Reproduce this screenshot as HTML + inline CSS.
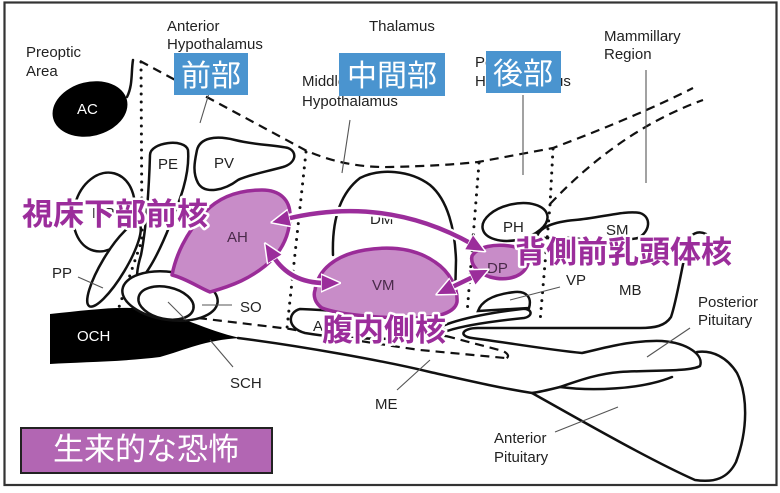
<!DOCTYPE html>
<html><head><meta charset="utf-8"><style>
html,body{margin:0;padding:0;background:#fff;}
svg{display:block;}
.l{font-family:"Liberation Sans",Arial,sans-serif;font-size:15px;fill:#222;}
.o{fill:none;stroke:#111;stroke-width:2.5;stroke-linejoin:round;stroke-linecap:round;}
.w{fill:#fff;stroke:#111;stroke-width:2.5;}
.p{stroke:#555;stroke-width:1.1;fill:none;}
.dot{fill:none;stroke:#111;stroke-width:3;stroke-dasharray:0 8;stroke-linecap:round;}
.dash{fill:none;stroke:#111;stroke-width:2.2;stroke-dasharray:9 6;}
.pu{fill:#c88cc8;stroke:#9a2c98;stroke-width:3.5;stroke-linejoin:round;}
.jp{font-family:"Liberation Sans","Noto Sans CJK JP",sans-serif;font-size:31px;font-weight:700;fill:#9b2d9b;stroke:#fff;stroke-width:5;paint-order:stroke;stroke-linejoin:round;}
.bj{font-family:"Liberation Sans","Noto Sans CJK JP",sans-serif;font-size:30px;fill:#fff;text-anchor:middle;}
</style></head><body>
<svg width="780" height="493" viewBox="0 0 780 493" xmlns="http://www.w3.org/2000/svg">
<defs>
<marker id="ah" viewBox="0 0 20 20" refX="4" refY="10" markerWidth="20" markerHeight="20" markerUnits="userSpaceOnUse" orient="auto-start-reverse">
<path d="M0,1 L20,10 L0,19 Z" fill="#9b2d9b" stroke="#fff" stroke-width="1.5" stroke-linejoin="round"/>
</marker>
</defs>
<rect x="0" y="0" width="780" height="493" fill="#fff"/>
<rect x="4.5" y="2.5" width="772" height="482.5" fill="none" stroke="#333" stroke-width="2.2"/>

<!-- dashed / dotted region lines -->
<path class="dash" d="M140,61 L305,150 Q345,168 390,167 Q440,166 478,162 L553,148 Q640,115 693,88"/>
<path class="dash" d="M550,204 Q620,130 703,100"/>
<path class="dot" d="M141,62 L142,240 L118,310"/>
<path class="dot" d="M306,152 L287,328"/>
<path class="dot" d="M479,163 L467,314"/>
<path class="dot" d="M553,149 L550,205 L540,322"/>
<path class="dash" d="M198,318 L290,329 Q350,340 420,350 L505,358"/>
<path class="dash" d="M446,336 Q480,345 503,351 Q512,356 505,359"/>

<!-- AC -->
<ellipse cx="90" cy="109" rx="38" ry="27" transform="rotate(-14 90 109)" fill="#000"/>
<path class="o" d="M127,97 C133,85 131,72 133,60"/>
<text class="l" x="77" y="114" style="fill:#fff">AC</text>

<!-- left nuclei -->
<ellipse class="w" cx="104" cy="212" rx="30" ry="40" transform="rotate(15 104 212)"/>
<ellipse class="w" cx="114" cy="265" rx="48" ry="12" transform="rotate(-59 114 265)"/>
<path class="w" d="M150,155 C150,142 185,138 188,150 C190,175 180,200 170,225 C160,250 150,270 140,280 C135,284 137,268 141,255 C146,230 149,190 150,155 Z"/>
<path class="w" d="M197,150 C200,138 215,135 235,140 C255,145 275,145 288,148 C298,152 296,163 283,167 C265,172 248,175 238,180 C225,190 205,195 198,183 C192,172 195,160 197,150 Z"/>
<text class="l" x="158" y="169">PE</text>
<text class="l" x="214" y="168">PV</text>
<text class="l" x="92" y="218">MP</text>

<!-- OCH -->
<path d="M50,314 C90,310 125,305 150,310 C180,315 205,330 240,338 C205,340 185,350 160,357 C120,362 80,362 50,364 Z" fill="#000"/>
<text class="l" x="77" y="341" style="fill:#fff">OCH</text>

<!-- SO -->
<ellipse class="w" cx="170" cy="296" rx="48" ry="24" transform="rotate(8 170 296)"/>
<ellipse class="w" cx="166" cy="303" rx="28" ry="16" transform="rotate(12 166 303)"/>

<!-- AH -->
<path class="pu" d="M172,275 C176,255 185,235 205,212 C220,196 240,190 262,190 C280,190 290,200 290,215 C290,235 282,252 265,266 C250,278 235,285 210,292 C200,288 185,278 172,275 Z"/>
<text class="l" x="227" y="242" style="fill:#4a2a4a">AH</text>

<!-- DM, A, VM -->
<path class="o" d="M333,255 C332,225 338,195 360,178 C380,168 410,170 430,185 C448,200 455,230 456,260 L455,300"/>
<text class="l" x="370" y="224">DM</text>
<path class="w" d="M300,309 C288,312 286,328 305,333 C340,339 400,341 445,336 C440,325 380,312 300,309 Z"/>
<text class="l" x="313" y="331">A</text>
<path class="pu" d="M315,290 C318,270 335,255 365,250 C390,246 415,248 435,262 C450,272 458,288 457,302 C455,312 440,318 410,318 C380,318 340,315 322,308 C315,303 313,296 315,290 Z"/>
<text class="l" x="372" y="290" style="fill:#4a2a4a">VM</text>

<!-- PH, DP, SM -->
<ellipse class="w" cx="515" cy="222" rx="33" ry="18" transform="rotate(-12 515 222)"/>
<text class="l" x="503" y="232">PH</text>
<path class="pu" d="M472,256 C478,246 495,244 510,246 C525,248 532,258 526,268 C520,278 505,281 490,277 C478,273 470,265 472,256 Z"/>
<text class="l" x="487" y="273" style="fill:#4a2a4a">DP</text>
<path class="o" d="M537,236 C540,228 552,222 575,220 C600,218 625,210 640,213 C652,217 650,232 638,238 C620,242 590,240 570,238 C555,237 545,240 537,236 Z"/>
<text class="l" x="606" y="235">SM</text>

<!-- VP strip -->
<path class="w" d="M478,311 C482,300 496,294 515,292 C527,291 532,298 529,308 Z"/>
<path class="w" d="M440,327 C460,318 495,312 522,309 C532,308 534,316 524,318 C495,321 465,325 447,331 Z"/>
<text class="l" x="566" y="285">VP</text>
<text class="l" x="619" y="295">MB</text>

<!-- MB + posterior pituitary -->
<path class="o" d="M706,234 C698,230 690,234 688,242 C682,265 677,300 671,317 C665,326 655,328 640,328 L478,328 C462,328 458,336 472,338 C510,343 550,350 582,353 C605,348 630,340 662,341 C688,343 704,355 700,366 C690,372 650,370 620,372 C595,374 575,382 560,387 C548,390 540,392 532,393"/>
<path class="o" d="M560,387 C590,391 640,390 672,377"/>
<!-- ME / anterior pituitary -->
<path class="o" d="M238,338 C300,346 380,360 430,372 C470,381 500,388 532,393 C580,420 650,460 695,480 C715,483 728,478 736,462 C748,430 748,395 737,373 C727,357 712,350 697,352"/>

<!-- pointer lines -->
<path class="p" d="M213,80 L200,123"/>
<path class="p" d="M350,120 L342,173"/>
<path class="p" d="M523,95 L523,175"/>
<path class="p" d="M646,70 L646,183"/>
<path class="p" d="M78,277 L103,288"/>
<path class="p" d="M202,305 L232,305"/>
<path class="p" d="M168,302 L186,320"/>
<path class="p" d="M233,367 L210,340"/>
<path class="p" d="M397,390 L430,360"/>
<path class="p" d="M510,300 L560,287"/>
<path class="p" d="M690,328 L647,357"/>
<path class="p" d="M555,432 L618,407"/>

<!-- labels -->
<text class="l" x="26" y="57">Preoptic</text>
<text class="l" x="26" y="76">Area</text>
<text class="l" x="167" y="31">Anterior</text>
<text class="l" x="167" y="49">Hypothalamus</text>
<text class="l" x="369" y="31">Thalamus</text>
<text class="l" x="302" y="86">Middle</text>
<text class="l" x="302" y="106">Hypothalamus</text>
<text class="l" x="475" y="67">Posterior</text>
<text class="l" x="475" y="86">Hypothalamus</text>
<text class="l" x="604" y="41">Mammillary</text>
<text class="l" x="604" y="59">Region</text>
<text class="l" x="52" y="278">PP</text>
<text class="l" x="240" y="312">SO</text>
<text class="l" x="230" y="388">SCH</text>
<text class="l" x="375" y="409">ME</text>
<text class="l" x="698" y="307">Posterior</text>
<text class="l" x="698" y="325">Pituitary</text>
<text class="l" x="494" y="443">Anterior</text>
<text class="l" x="494" y="462">Pituitary</text>

<!-- blue boxes -->
<rect x="174" y="53" width="74" height="42" fill="#4a94cf"/>
<text class="bj" x="211" y="86">前部</text>
<rect x="339" y="53" width="106" height="43" fill="#4a94cf"/>
<text class="bj" x="392" y="86">中間部</text>
<rect x="486" y="51" width="75" height="42" fill="#4a94cf"/>
<text class="bj" x="523" y="84">後部</text>

<!-- arrows -->
<g fill="none" stroke-linecap="round">
<path d="M286,219 Q385,195 472,244" stroke="#fff" stroke-width="9"/>
<path d="M273,256 Q290,283 325,283" stroke="#fff" stroke-width="9"/>
<path d="M450,288 L475,276" stroke="#fff" stroke-width="9"/>
<path d="M286,219 Q385,195 472,244" stroke="#9b2d9b" stroke-width="4.5" marker-start="url(#ah)" marker-end="url(#ah)"/>
<path d="M273,256 Q290,283 325,283" stroke="#9b2d9b" stroke-width="4.5" marker-start="url(#ah)" marker-end="url(#ah)"/>
<path d="M450,288 L475,276" stroke="#9b2d9b" stroke-width="4.5" marker-start="url(#ah)" marker-end="url(#ah)"/>
</g>

<!-- purple labels -->
<text class="jp" x="22" y="225">視床下部前核</text>
<text class="jp" x="515" y="263">背側前乳頭体核</text>
<text class="jp" x="322" y="341">腹内側核</text>

<!-- purple box -->
<rect x="21" y="428" width="251" height="45" fill="#b266b3" stroke="#222" stroke-width="2"/>
<text x="146" y="460" text-anchor="middle" style="font-family:'Liberation Sans','Noto Sans CJK JP',sans-serif;font-size:31px;fill:#fff;">生来的な恐怖</text>
</svg>
</body></html>
